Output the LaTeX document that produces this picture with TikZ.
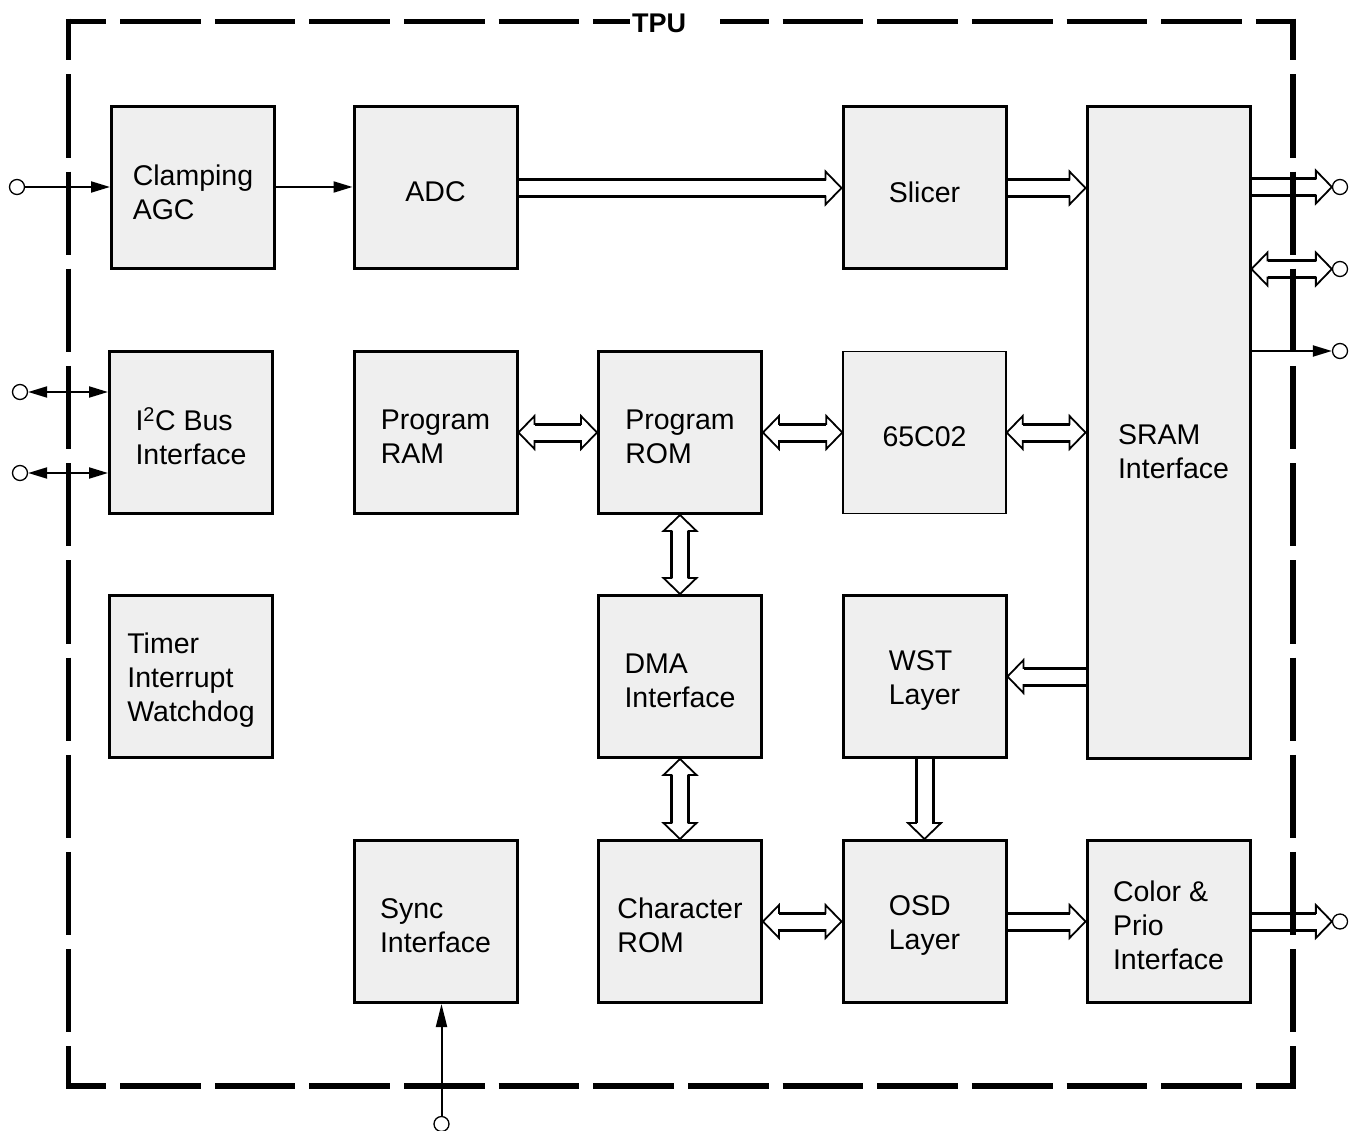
\documentclass[tikz,border=0pt]{standalone}
\usepackage{fontspec}
\setmainfont{Liberation Sans}
\usetikzlibrary{arrows.meta,calc,backgrounds}
\definecolor{boxgray}{RGB}{239,239,239}
\newcommand\busw{8.5pt}
\newcommand\bushw{16.5pt}
\newcommand\bushl{16pt}
\tikzset{
  blk/.style={draw=black, fill=boxgray, line width=3pt, minimum width=163pt, minimum height=162pt,
    inner sep=0pt},
  txt/.style={align=left, inner sep=0pt, font=\fontsize{28.5}{34}\selectfont, yshift=-4pt},
  term/.style={circle, draw=black, fill=white, line width=1.3pt, minimum size=15pt, inner sep=0pt},
  busfill/.style={draw=black, fill=white, line width=1.8pt, line join=miter},
  busline/.style={draw=black, line width=3pt},
  sig/.style={draw=black, line width=2pt, -{Triangle[length=19pt,width=11pt]}},
  sigboth/.style={draw=black, line width=2pt, {Triangle[length=19pt,width=11pt]}-{Triangle[length=19pt,width=11pt]}},
  border/.style={draw=black, line width=5.5pt},
}
% horizontal bus, head at #2 (pointing right)
\newcommand\busR[2]{%
  \draw[busfill] let \p1=(#1),\p2=(#2) in (\x1,\y1+\busw) -- (\x2-\bushl,\y1+\busw) -- (\x2-\bushl,\y1+\bushw) -- (\x2,\y1) -- (\x2-\bushl,\y1-\bushw) -- (\x2-\bushl,\y1-\busw) -- (\x1,\y1-\busw);
  \draw[busline] let \p1=(#1),\p2=(#2) in (\x1,\y1+\busw) -- (\x2-\bushl,\y1+\busw) (\x1,\y1-\busw) -- (\x2-\bushl,\y1-\busw);}
% horizontal bus, head at #2 (pointing left)
\newcommand\busL[2]{%
  \draw[busfill] let \p1=(#1),\p2=(#2) in (\x1,\y1+\busw) -- (\x2+\bushl,\y1+\busw) -- (\x2+\bushl,\y1+\bushw) -- (\x2,\y1) -- (\x2+\bushl,\y1-\bushw) -- (\x2+\bushl,\y1-\busw) -- (\x1,\y1-\busw);
  \draw[busline] let \p1=(#1),\p2=(#2) in (\x1,\y1+\busw) -- (\x2+\bushl,\y1+\busw) (\x1,\y1-\busw) -- (\x2+\bushl,\y1-\busw);}
% horizontal bidirectional bus, #1 left, #2 right
\newcommand\busLR[2]{%
  \draw[busfill] let \p1=(#1),\p2=(#2) in (\x1,\y1) -- (\x1+\bushl,\y1+\bushw) -- (\x1+\bushl,\y1+\busw) -- (\x2-\bushl,\y1+\busw) -- (\x2-\bushl,\y1+\bushw) -- (\x2,\y1) -- (\x2-\bushl,\y1-\bushw) -- (\x2-\bushl,\y1-\busw) -- (\x1+\bushl,\y1-\busw) -- (\x1+\bushl,\y1-\bushw) -- cycle;
  \draw[busline] let \p1=(#1),\p2=(#2) in (\x1+\bushl,\y1+\busw) -- (\x2-\bushl,\y1+\busw) (\x1+\bushl,\y1-\busw) -- (\x2-\bushl,\y1-\busw);}
% vertical bus, #1 top, head at #2 bottom
\newcommand\busD[2]{%
  \draw[busfill] let \p1=(#1),\p2=(#2) in (\x1+\busw,\y1) -- (\x1+\busw,\y2+\bushl) -- (\x1+\bushw,\y2+\bushl) -- (\x1,\y2) -- (\x1-\bushw,\y2+\bushl) -- (\x1-\busw,\y2+\bushl) -- (\x1-\busw,\y1);
  \draw[busline] let \p1=(#1),\p2=(#2) in (\x1+\busw,\y1) -- (\x1+\busw,\y2+\bushl) (\x1-\busw,\y1) -- (\x1-\busw,\y2+\bushl);}
% vertical bidirectional bus, #1 top, #2 bottom
\newcommand\busUD[2]{%
  \draw[busfill] let \p1=(#1),\p2=(#2) in (\x1,\y1) -- (\x1+\bushw,\y1-\bushl) -- (\x1+\busw,\y1-\bushl) -- (\x1+\busw,\y2+\bushl) -- (\x1+\bushw,\y2+\bushl) -- (\x1,\y2) -- (\x1-\bushw,\y2+\bushl) -- (\x1-\busw,\y2+\bushl) -- (\x1-\busw,\y1-\bushl) -- (\x1-\bushw,\y1-\bushl) -- cycle;
  \draw[busline] let \p1=(#1),\p2=(#2) in (\x1+\busw,\y1-\bushl) -- (\x1+\busw,\y2+\bushl) (\x1-\busw,\y1-\bushl) -- (\x1-\busw,\y2+\bushl);}
\begin{document}
\begin{tikzpicture}[x=1pt,y=-1pt]
\useasboundingbox (0,0) rectangle (1359,1131);
% blocks
\node[blk, label={[txt]center:Clamping\\AGC}] (clamp) at (193,188) {};
\node[blk, label={[txt]center:ADC}] (adc) at (435.5,188) {};
\node[blk, label={[txt]center:Slicer}] (slicer) at (924.5,188) {};
\node[blk, minimum height=651pt, label={[txt, xshift=5pt, yshift=-15pt]center:SRAM\\Interface}] (sram) at (1168.5,432.5) {};
\node[blk, label={[txt]center:I\textsuperscript{2}C Bus\\Interface}] (i2c) at (191,432.5) {};
\node[blk, label={[txt]center:Program\\RAM}] (pram) at (435.5,432.5) {};
\node[blk, label={[txt]center:Program\\ROM}] (prom) at (680,432.5) {};
\node[blk, line width=1.5pt, label={[txt]center:65C02}] (cpu) at (924.5,432.5) {};
\node[blk, label={[txt]center:Timer\\Interrupt\\Watchdog}] (timer) at (191,676.5) {};
\node[blk, label={[txt]center:DMA\\Interface}] (dma) at (680,676.5) {};
\node[blk, label={[txt]center:WST\\Layer}] (wst) at (924.5,676.5) {};
\node[blk, label={[txt]center:Sync\\Interface}] (sync) at (435.5,921.5) {};
\node[blk, label={[txt]center:Character\\ROM}] (crom) at (680,921.5) {};
\node[blk, label={[txt]center:OSD\\Layer}] (osd) at (924.5,921.5) {};
\node[blk, label={[txt]center:Color \&\\Prio\\Interface}] (color) at (1168.5,921.5) {};
% terminals
\node[term] (tin) at (17,187) {};
\node[term] (ti1) at (20,392) {};
\node[term] (ti2) at (20,473) {};
\node[term] (to1) at (1340,187) {};
\node[term] (to2) at (1340,269) {};
\node[term] (to3) at (1340,351) {};
\node[term] (to4) at (1340,921.5) {};
\node[term] (tsync) at (441.5,1124) {};
% connectors
\begin{pgfonlayer}{background}
\draw[sig] (tin.east) -- (tin.east -| clamp.west);
\draw[sig] (clamp.east |- tin) -- (adc.west |- tin);
\busR{adc.east}{slicer.west}
\busR{slicer.east}{slicer.east -| sram.west}
\busR{sram.east |- to1}{to1.west}
\busLR{sram.east |- to2}{to2.west}
\draw[sig] (sram.east |- to3) -- (to3.west);
\draw[sigboth] (ti1.east) -- (ti1.east -| i2c.west);
\draw[sigboth] (ti2.east) -- (ti2.east -| i2c.west);
\busLR{pram.east}{prom.west}
\busLR{prom.east}{cpu.west}
\busLR{cpu.east}{cpu.east -| sram.west}
\busUD{prom.south}{dma.north}
\busUD{dma.south}{crom.north}
\busL{sram.west |- wst.east}{wst.east}
\busD{wst.south}{osd.north}
\busLR{crom.east}{osd.west}
\busR{osd.east}{color.west}
\busR{color.east}{to4.west}
\draw[draw=black, line width=2pt, -{Triangle[length=23pt,width=11pt]}] (tsync.north) -- (tsync.north |- sync.south);
\end{pgfonlayer}
% dashed border
\coordinate (btl) at (68.5,21.5);
\coordinate (bbr) at (1293,1086);
\draw[border, dash pattern=on 80.65pt off 14pt, dash phase=40.3pt] ($(btl)+(-2.75,0)$) -- ($(bbr |- btl)+(2.75,0)$);
\draw[border, dash pattern=on 80.65pt off 14pt, dash phase=40.3pt] ($(btl |- bbr)+(-2.75,0)$) -- ($(bbr)+(2.75,0)$);
\draw[border, dash pattern=on 83.2pt off 14pt, dash phase=41.6pt] ($(btl)+(0,-2.75)$) -- ($(btl |- bbr)+(0,2.75)$);
\draw[border, dash pattern=on 83.2pt off 14pt, dash phase=41.6pt] ($(bbr |- btl)+(0,-2.75)$) -- ($(bbr)+(0,2.75)$);
\node[fill=white, inner xsep=2pt, inner ysep=3pt, text width=86pt, align=left, font=\fontsize{27}{32}\selectfont\bfseries] (tpu) at (675,23) {TPU};
\end{tikzpicture}
\end{document}
